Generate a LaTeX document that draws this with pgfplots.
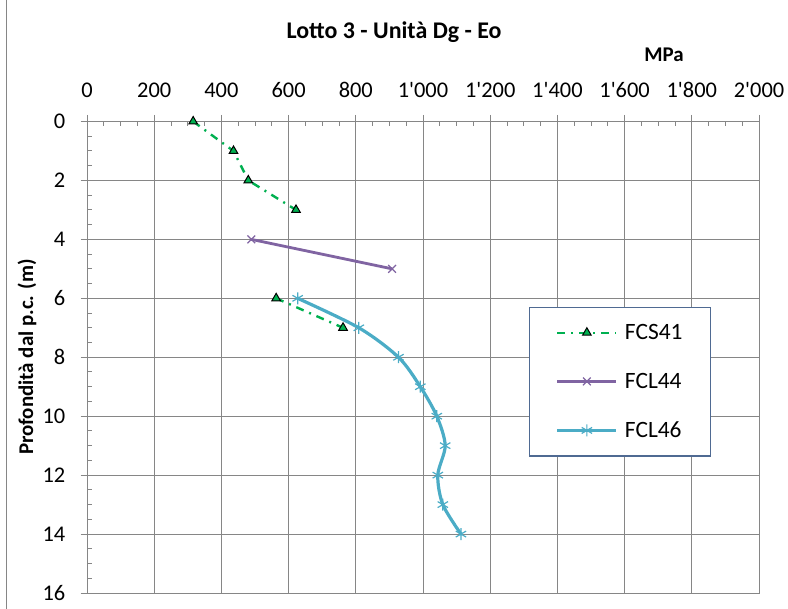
\documentclass[border=0pt]{standalone}
\usepackage{fontspec}
\setmainfont{Carlito}
\usepackage{pgfplots}
\pgfplotsset{compat=1.18}
\definecolor{fgreen}{RGB}{0,176,80}
\definecolor{fpurple}{RGB}{128,100,162}
\definecolor{faqua}{RGB}{75,172,198}
\definecolor{gridgray}{RGB}{134,134,134}
\definecolor{legborder}{RGB}{79,106,146}

\pgfplotstableread{
x y
316 0
436 1
480 2
622 3
nan 4
563 6
762 7
}\fcsA
\pgfplotstableread{
x y
489 4
908 5
}\fclB
\pgfplotstableread{
x y
627 6
809 7
927 8
992 9
1041 10
1066 11
1044 12
1059 13
1113 14
}\fclC

\begin{document}
\begin{tikzpicture}[x=1bp,y=1bp]
\useasboundingbox (0,0) rectangle (788,609);
\draw[gridgray, line width=1bp] (6,0) -- (6,609);
\node[font=\bfseries\fontsize{24}{24}\selectfont] at (394,577) {Lotto 3 - Unità Dg - Eo};
\node[font=\bfseries\fontsize{21}{21}\selectfont] at (664,554) {MPa};
\node[rotate=90, font=\bfseries\fontsize{21}{21}\selectfont] at (27,252) {Profondità dal p.c. (m)};
\begin{axis}[
  at={(87bp,16bp)}, anchor=south west,
  scale only axis, width=672bp, height=471.5bp,
  xmin=0, xmax=2000, ymin=0, ymax=16,
  y dir=reverse,
  xtick={0,200,...,2000},
  ytick={0,2,...,16},
  xtick pos=upper, xticklabel pos=upper,
  ytick pos=left, yticklabel pos=left,
  tick align=outside, major tick length=6.5bp,
  extra x ticks={50,100,150,250,300,350,450,500,550,650,700,750,850,900,950,1050,1100,1150,1250,1300,1350,1450,1500,1550,1650,1700,1750,1850,1900,1950},
  extra x tick labels={},
  extra x tick style={tick align=inside, major tick length=5bp, grid=none},
  extra y ticks={0.5,1,1.5,2.5,3,3.5,4.5,5,5.5,6.5,7,7.5,8.5,9,9.5,10.5,11,11.5,12.5,13,13.5,14.5,15,15.5},
  extra y tick labels={},
  extra y tick style={tick align=inside, major tick length=5bp, grid=none},
  grid=major,
  major grid style={gridgray, line width=1bp},
  axis line style={gridgray, line width=1bp},
  tick style={gridgray, line width=1bp},
  /pgf/number format/.cd, 1000 sep={\textquotesingle}, assume math mode=true, /pgfplots/.cd,
  ticklabel style={font=\fontsize{22.5}{22.5}\selectfont},
  xticklabel style={anchor=south, inner sep=0pt, yshift=17.5bp},
  yticklabel style={anchor=east, inner sep=0pt, xshift=-15bp},
  unbounded coords=jump,
  legend cell align=left,
  legend style={at={(0.658,0.607)}, anchor=north west, draw=legborder, line width=1.2bp,
    font=\fontsize{23.5}{23.5}\selectfont, inner xsep=26bp, inner ysep=15bp, row sep=28bp, column sep=5bp,
    nodes={inner sep=2bp}},
  legend image code/.code={\draw[mark repeat=2,mark phase=2] plot coordinates {(0bp,0bp)(29.5bp,0bp)(59bp,0bp)};},
]
\addplot[fgreen, line width=2.4bp, dash pattern=on 8bp off 6bp on 2bp off 6bp,
  mark=triangle*, mark size=5bp, mark options={solid, fill=fgreen, draw=black, line width=1bp}]
  table {\fcsA};
\addlegendentry{FCS41}
\addplot[fpurple, line width=2.8bp, mark=x, mark size=5.5bp, mark options={solid, line width=1.2bp}]
  table {\fclB};
\addlegendentry{FCL44}
\addplot[faqua, line width=3.2bp, smooth, tension=0.5, mark=asterisk, mark size=6bp, mark options={solid, line width=1.2bp}]
  table {\fclC};
\addlegendentry{FCL46}
\end{axis}
\end{tikzpicture}
\end{document}
